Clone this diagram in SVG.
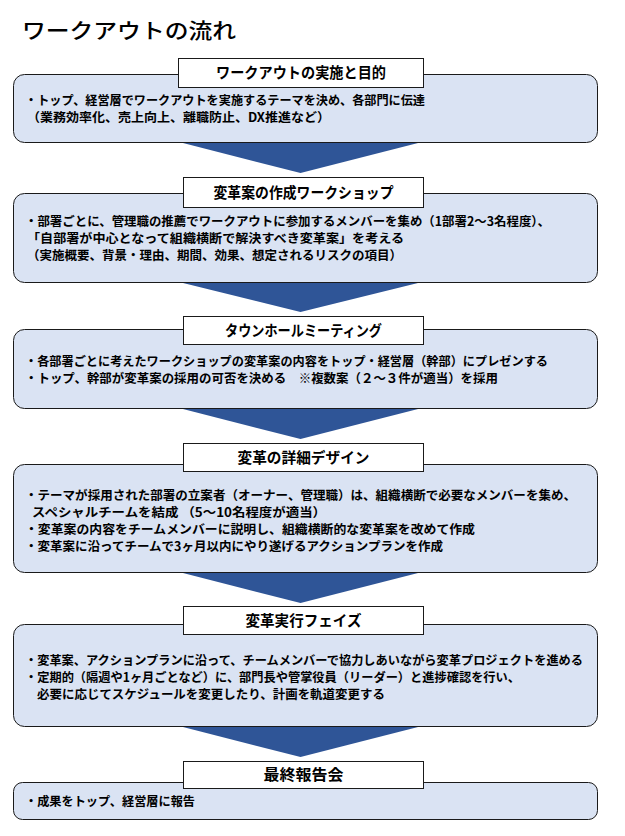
<svg xmlns="http://www.w3.org/2000/svg" width="625" height="836" viewBox="0 0 625 836">
<style>
text{font-family:"Noto Sans CJK JP","Noto Sans CJK SC",sans-serif;fill:#000}
.title{font-size:21px;font-weight:500}
.box{fill:#dae3f3;stroke:#1a1a1a;stroke-width:1}
.hdr{fill:#fff;stroke:#1a1a1a;stroke-width:1}
.ht{font-size:15px;font-weight:bold;text-anchor:middle}
.bt{font-size:12.5px;font-weight:bold}
.arr{fill:#2f5597}
</style>
<rect width="625" height="836" fill="#fff"/>
<text class="title" x="22" y="38" textLength="214" lengthAdjust="spacingAndGlyphs">ワークアウトの流れ</text>

<g id="connectors">
<polygon class="arr" points="181,142.5 420,142.5 300.5,173"/>
<polygon class="arr" points="181,282.5 420,282.5 300.5,312"/>
<polygon class="arr" points="181,408.5 420,408.5 300.5,439"/>
<polygon class="arr" points="181,572.5 420,572.5 300.5,603"/>
<polygon class="arr" points="181,726.5 420,726.5 300.5,757"/>
</g>

<g id="step1">
<rect class="box" x="13.5" y="74.5" width="584" height="68" rx="11"/>
<rect class="hdr" x="178.5" y="58.5" width="245" height="29"/>
<text class="ht" x="301" y="78" textLength="170" lengthAdjust="spacingAndGlyphs">ワークアウトの実施と目的</text>
<text class="bt" x="25" y="105" textLength="400" lengthAdjust="spacingAndGlyphs">・トップ、経営層でワークアウトを実施するテーマを決め、各部門に伝達</text>
<text class="bt" x="27" y="122" textLength="303" lengthAdjust="spacingAndGlyphs">（業務効率化、売上向上、離職防止、DX推進など）</text>
</g>

<g id="step2">
<rect class="box" x="13.5" y="193.5" width="584" height="89" rx="11"/>
<rect class="hdr" x="183.5" y="177.5" width="240" height="30"/>
<text class="ht" x="303.5" y="197.5" textLength="180" lengthAdjust="spacingAndGlyphs">変革案の作成ワークショップ</text>
<text class="bt" x="25" y="226" textLength="525" lengthAdjust="spacingAndGlyphs">・部署ごとに、管理職の推薦でワークアウトに参加するメンバーを集め（1部署2～3名程度）、</text>
<text class="bt" x="27" y="243" textLength="377" lengthAdjust="spacingAndGlyphs">「自部署が中心となって組織横断で解決すべき変革案」を考える</text>
<text class="bt" x="27" y="260" textLength="375" lengthAdjust="spacingAndGlyphs">（実施概要、背景・理由、期間、効果、想定されるリスクの項目）</text>
</g>

<g id="step3">
<rect class="box" x="13.5" y="329.5" width="584" height="79" rx="11"/>
<rect class="hdr" x="183.5" y="316.5" width="240" height="28"/>
<text class="ht" x="303.5" y="335.5" textLength="157" lengthAdjust="spacingAndGlyphs">タウンホールミーティング</text>
<text class="bt" x="25" y="366" textLength="523" lengthAdjust="spacingAndGlyphs">・各部署ごとに考えたワークショップの変革案の内容をトップ・経営層（幹部）にプレゼンする</text>
<text class="bt" x="25" y="383" textLength="473" lengthAdjust="spacingAndGlyphs">・トップ、幹部が変革案の採用の可否を決める　※複数案（２～３件が適当）を採用</text>
</g>

<g id="step4">
<rect class="box" x="13.5" y="464.5" width="584" height="108" rx="11"/>
<rect class="hdr" x="183.5" y="443.5" width="240" height="28"/>
<text class="ht" x="303.5" y="462.5" textLength="132" lengthAdjust="spacingAndGlyphs">変革の詳細デザイン</text>
<text class="bt" x="25" y="500" textLength="551" lengthAdjust="spacingAndGlyphs">・テーマが採用された部署の立案者（オーナー、管理職）は、組織横断で必要なメンバーを集め、</text>
<text class="bt" x="32" y="517" textLength="294" lengthAdjust="spacingAndGlyphs">スペシャルチームを結成 （5～10名程度が適当）</text>
<text class="bt" x="25" y="534" textLength="450" lengthAdjust="spacingAndGlyphs">・変革案の内容をチームメンバーに説明し、組織横断的な変革案を改めて作成</text>
<text class="bt" x="25" y="551" textLength="418" lengthAdjust="spacingAndGlyphs">・変革案に沿ってチームで3ヶ月以内にやり遂げるアクションプランを作成</text>
</g>

<g id="step5">
<rect class="box" x="13.5" y="624.5" width="584" height="102" rx="11"/>
<rect class="hdr" x="183.5" y="606.5" width="240" height="28"/>
<text class="ht" x="303.5" y="625.5" textLength="116" lengthAdjust="spacingAndGlyphs">変革実行フェイズ</text>
<text class="bt" x="25" y="665" textLength="558" lengthAdjust="spacingAndGlyphs">・変革案、アクションプランに沿って、チームメンバーで協力しあいながら変革プロジェクトを進める</text>
<text class="bt" x="25" y="682" textLength="495" lengthAdjust="spacingAndGlyphs">・定期的（隔週や1ヶ月ごとなど）に、部門長や管掌役員（リーダー）と進捗確認を行い、</text>
<text class="bt" x="37" y="699" textLength="348" lengthAdjust="spacingAndGlyphs">必要に応じてスケジュールを変更したり、計画を軌道変更する</text>
</g>

<g id="step6">
<rect class="box" x="13.5" y="782.5" width="584" height="37" rx="9"/>
<rect class="hdr" x="183.5" y="761.5" width="240" height="27"/>
<text class="ht" x="303.5" y="780" textLength="80" lengthAdjust="spacingAndGlyphs">最終報告会</text>
<text class="bt" x="25" y="806" textLength="170" lengthAdjust="spacingAndGlyphs">・成果をトップ、経営層に報告</text>
</g>
</svg>
